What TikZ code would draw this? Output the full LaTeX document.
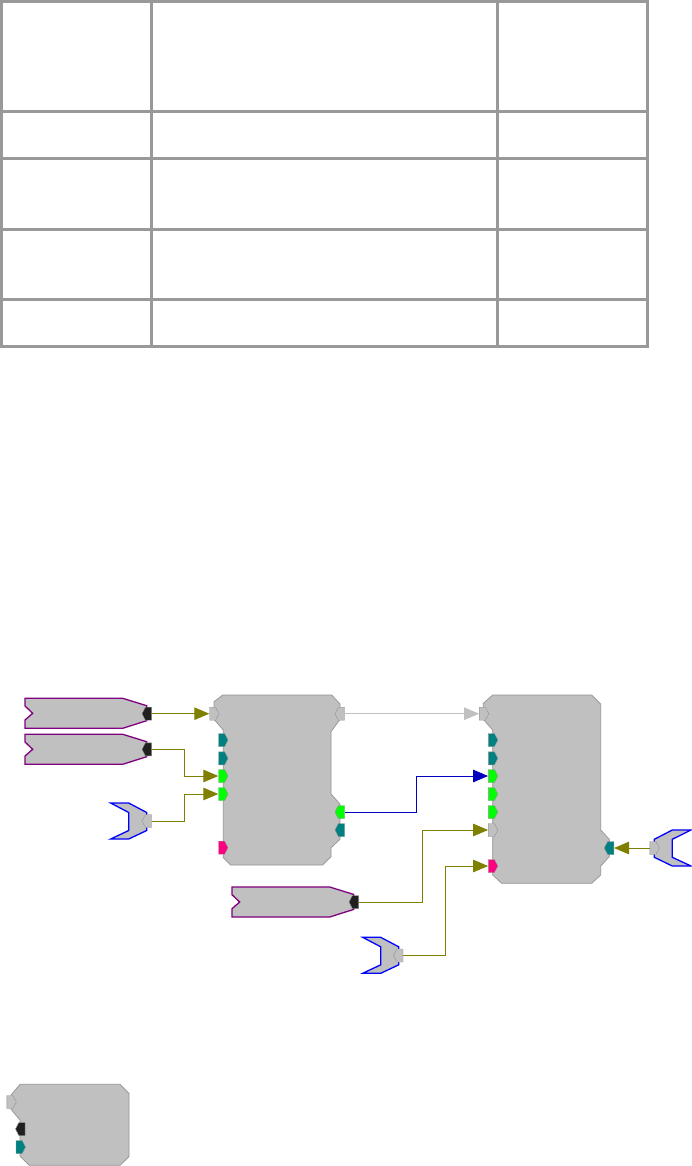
\documentclass[tikz,border=0pt]{standalone}
\usepackage{tikz}
\usetikzlibrary{arrows.meta,shapes.symbols}

\definecolor{rulegray}{RGB}{153,153,153}
\definecolor{bodygray}{RGB}{192,192,192}
\definecolor{edgegray}{RGB}{128,128,128}
\definecolor{srcpurple}{RGB}{128,0,128}
\definecolor{srcblue}{RGB}{0,0,255}
\definecolor{wireolive}{RGB}{128,128,0}
\definecolor{wireblue}{RGB}{0,0,190}
\definecolor{portteal}{RGB}{0,128,128}
\definecolor{portgreen}{RGB}{0,255,0}
\definecolor{portpink}{RGB}{255,0,128}
\definecolor{portblack}{RGB}{32,32,32}

\tikzset{
	block/.style={fill=bodygray,draw=edgegray!70!bodygray,line width=0.7pt,line join=round},
	srcbox/.style={fill=bodygray,draw=srcpurple,line width=1.3pt,line join=miter},
	capbox/.style={fill=bodygray,draw=srcblue,line width=1.3pt,line join=miter},
	port/.style={signal,signal from=nowhere,signal pointer angle=125,draw=edgegray!70!bodygray,line width=0.4pt,minimum width=9.5pt,minimum height=13pt,inner sep=0pt},
	portin/.style={port,signal to=east,anchor=west,xshift=-4.7pt},
	portout/.style={port,signal to=west,anchor=east,xshift=4.7pt},
	wire/.style={wireolive,line width=1pt,-{Triangle[length=15pt,width=12.5pt]}},
}

\begin{document}
\begin{tikzpicture}[x=1pt,y=-1pt]
	\useasboundingbox (0,0) rectangle (692,1166);
	% table rules
	\foreach \x in {1.5,151,497.5,647.5}{
		\draw[rulegray,line width=3pt] (\x,0) -- (\x,348);}
	\foreach \y in {1.5,112,158.5,229.5,299.5,346.5}{
		\draw[rulegray,line width=3pt] (0,\y) -- (649,\y);}
	% blocks
	\draw[block] (214,701.7) -- (222.7,695) -- (331.7,695) -- (340,704) -- (340,719.3) -- (331,731.7) -- (331,794) -- (340,804) -- (340,839.3) -- (331,847.7) -- (331,856.7) -- (322.7,865) -- (230.7,865) -- (223.3,857.7) -- (223.3,730) -- (214,719.3) -- cycle;
	\draw[block] (483.3,703.3) -- (492.7,695) -- (591.7,695) -- (600.7,704) -- (600.7,830) -- (609.3,839.3) -- (609.3,856.7) -- (600.7,866) -- (600.7,875) -- (591.7,883.3) -- (501.7,883.3) -- (492.7,875) -- (492.7,730) -- (483.3,719.3) -- cycle;
	\draw[block] (11,1095) -- (20,1084.3) -- (120,1084.3) -- (129,1093.3) -- (129,1156.7) -- (120,1165.3) -- (29.3,1165.3) -- (20,1156) -- (20,1120) -- (11,1109.3) -- cycle;
	% sources
	\foreach \dx/\dy in {0/0,0/36,207/188.7}{
		\draw[srcbox,shift={(\dx,\dy)}] (25,698.3) -- (122.7,698.3) -- (146.7,705.7) -- (146.7,720.7) -- (122.7,728.3) -- (25,728.3) -- (25,720) -- (32.7,713.3) -- (25,706) -- cycle;}
	\foreach \dx/\dy in {0/0,252/134.3}{
		\draw[capbox,shift={(\dx,\dy)}] (110.7,803) -- (128.7,803) -- (146.7,812.5) -- (146.7,830.5) -- (128.7,839) -- (110.7,839) -- (128.7,830.5) -- (128.7,812.5) -- cycle;}
	\draw[capbox] (691,830) -- (672.3,830) -- (654.3,839.3) -- (654.3,857.3) -- (672.3,866) -- (691,866) -- (672.3,857.3) -- (672.3,839.3) -- cycle;
	% ports
	\foreach \n/\y/\c in {onePb/740/portteal,onePc/758.3/portteal,onePd/776/portgreen,onePe/794/portgreen,onePf/847.7/portpink}{
		\node[portin,fill=\c] (\n) at (223,\y){};}
	\node[portin,fill=bodygray] (onePa) at (214,713.7){};
	\foreach \n/\y/\c in {oneQa/713.7/bodygray,oneQb/812/portgreen,oneQc/830/portteal}{
		\node[portout,fill=\c] (\n) at (340,\y){};}
	\foreach \n/\y/\c in {twoPb/740/portteal,twoPc/758.3/portteal,twoPd/776/portgreen,twoPe/794/portgreen,twoPf/812/portgreen,twoPg/830/bodygray,twoPh/866/portpink}{
		\node[portin,fill=\c] (\n) at (492.8,\y){};}
	\node[portin,fill=bodygray] (twoPa) at (483.8,713.7){};
	\node[portout,fill=portteal] (twoQa) at (609.3,848){};
	\node[portin,fill=bodygray] (thrPa) at (11.3,1102){};
	\node[portout,fill=portblack] (thrPb) at (20.5,1129){};
	\node[portin,fill=portteal] (thrPc) at (20.5,1147){};
	\node[portout,fill=portblack] (srcA) at (147,713.7){};
	\node[portout,fill=portblack] (srcB) at (147,749.3){};
	\node[portout,fill=portblack] (srcC) at (354,902){};
	\node[portout,fill=bodygray] (capA) at (147,821){};
	\node[portout,fill=bodygray] (capB) at (398.5,955.5){};
	\node[portin,fill=bodygray] (capC) at (654.3,848){};
	% wires
	\coordinate (bendA) at (184.3,0);
	\coordinate (bendB) at (416.3,0);
	\coordinate (bendC) at (422.3,0);
	\coordinate (bendD) at (445.3,0);
	\draw[wire] (srcA.east) -- (onePa.west);
	\draw[wire] (srcB.east) -- (srcB.east -| bendA) -- (onePd.west -| bendA) -- (onePd.west);
	\draw[wire] (capA.east) -- (capA.east -| bendA) -- (onePe.west -| bendA) -- (onePe.west);
	\draw[wire,bodygray] (oneQa.east) -- (twoPa.west);
	\draw[wire,wireblue] (oneQb.east) -- (oneQb.east -| bendB) -- (twoPd.west -| bendB) -- (twoPd.west);
	\draw[wire] (srcC.east) -- (srcC.east -| bendC) -- (twoPg.west -| bendC) -- (twoPg.west);
	\draw[wire] (capB.east) -- (capB.east -| bendD) -- (twoPh.west -| bendD) -- (twoPh.west);
	\draw[wire] (capC.west) -- (twoQa.east);
\end{tikzpicture}
\end{document}
